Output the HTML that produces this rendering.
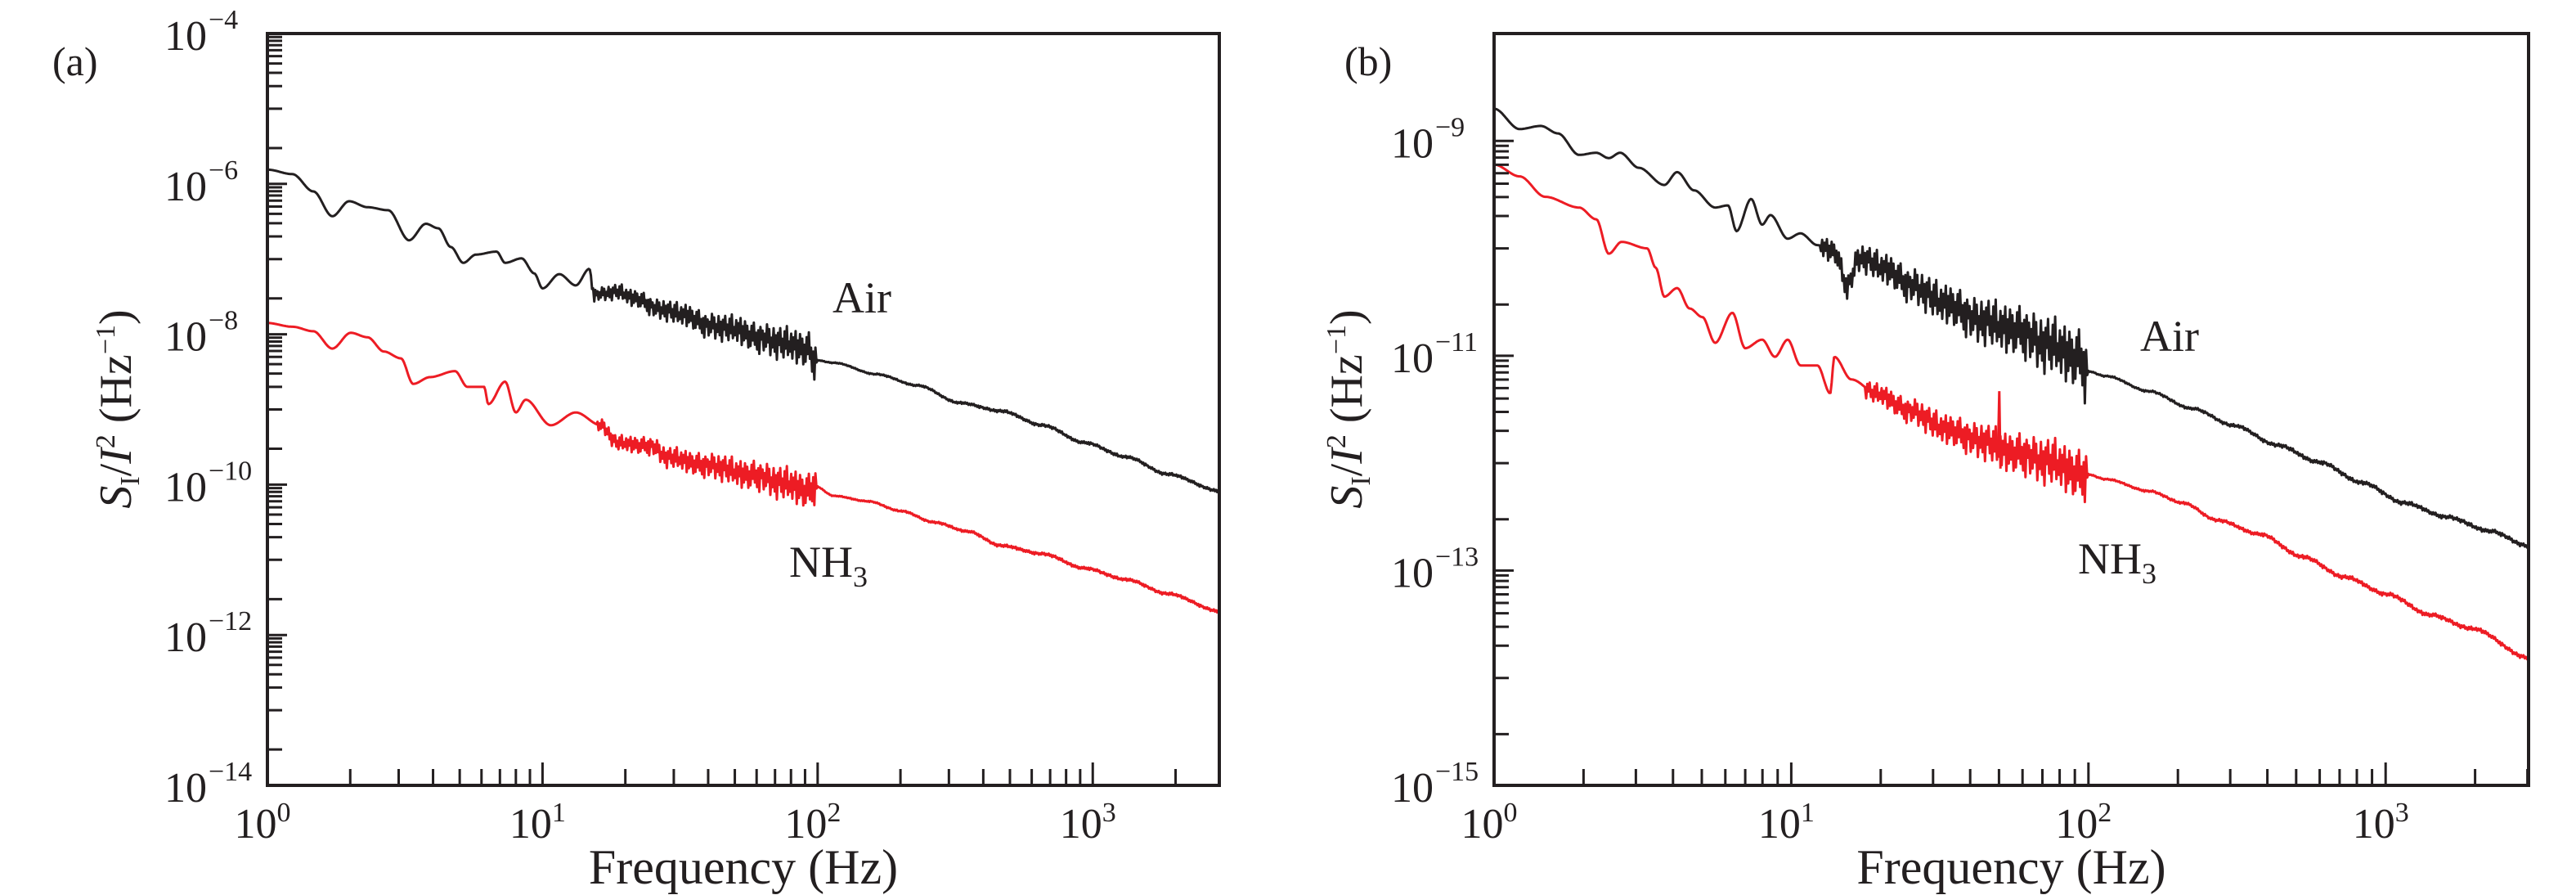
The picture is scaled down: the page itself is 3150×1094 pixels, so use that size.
<!DOCTYPE html>
<html><head><meta charset="utf-8">
<style>
html,body{margin:0;padding:0;background:#fff;}
svg{display:block;font-family:"Liberation Serif",serif;}
</style></head>
<body>
<svg id="fig" width="3150" height="1094" viewBox="0 0 3150 1094" xmlns="http://www.w3.org/2000/svg"></svg>
<script>
// ---- Panel (a) data: log10(frequency/Hz) and log10(S/I^2) ----
const airA_logf = [0,.091,.167,.236,.297,.364,.439,.515,.576,.621,.667,.712,.758,.833,.864,.924,.97,1.0,1.061,1.121,1.17,1.188,1.273,1.333,1.424,1.515,1.606,1.697,1.788,1.879,1.97,1.985,2.061,2.212,2.364,2.515,2.667,2.818,2.97,3.121,3.273,3.46];
const airA_logS = [-5.81,-5.87,-6.10,-6.43,-6.23,-6.31,-6.35,-6.75,-6.53,-6.59,-6.84,-7.05,-6.94,-6.90,-7.05,-6.99,-7.19,-7.39,-7.20,-7.35,-7.13,-7.47,-7.43,-7.51,-7.66,-7.73,-7.88,-7.92,-8.04,-8.11,-8.19,-8.34,-8.38,-8.53,-8.68,-8.91,-9.02,-9.21,-9.44,-9.63,-9.86,-10.08];
const nh3A_logf = [0,.091,.167,.236,.303,.364,.424,.485,.530,.591,.682,.727,.788,.803,.864,.903,.939,1.03,1.121,1.212,1.273,1.394,1.455,1.606,1.758,1.879,1.97,1.985,2.061,2.182,2.303,2.424,2.545,2.667,2.818,2.97,3.121,3.273,3.46];
const nh3A_logS = [-7.85,-7.90,-7.96,-8.19,-7.98,-8.04,-8.23,-8.32,-8.66,-8.57,-8.49,-8.70,-8.70,-8.93,-8.63,-9.04,-8.87,-9.21,-9.04,-9.21,-9.44,-9.48,-9.63,-9.74,-9.86,-9.97,-10.07,-10.01,-10.15,-10.22,-10.35,-10.50,-10.62,-10.81,-10.92,-11.11,-11.26,-11.45,-11.68];
// ---- Panel (b) data ----
const airB_logf = [0,.086,.157,.215,.286,.344,.386,.424,.487,.573,.616,.673,.744,.787,.816,.865,.902,.930,.988,1.031,1.088,1.145,1.188,1.231,1.317,1.403,1.517,1.632,1.746,1.861,1.975,1.990,2.061,2.204,2.348,2.491,2.634,2.777,2.920,3.063,3.206,3.350,3.481];
const airB_logS = [-8.70,-8.89,-8.86,-8.93,-9.13,-9.11,-9.16,-9.11,-9.25,-9.41,-9.29,-9.46,-9.62,-9.60,-9.84,-9.54,-9.78,-9.69,-9.91,-9.86,-9.97,-10.02,-10.34,-10.08,-10.18,-10.34,-10.50,-10.66,-10.74,-10.88,-11.01,-11.14,-11.19,-11.33,-11.49,-11.65,-11.83,-11.99,-12.18,-12.37,-12.50,-12.63,-12.77];
const nh3B_logf = [0,.086,.172,.286,.344,.386,.429,.515,.544,.573,.616,.658,.701,.744,.802,.845,.902,.945,.988,1.031,1.088,1.131,1.145,1.202,1.288,1.403,1.517,1.632,1.746,1.861,1.990,2.061,2.204,2.319,2.433,2.577,2.720,2.863,3.006,3.149,3.292,3.481];
const nh3B_logS = [-9.22,-9.33,-9.52,-9.62,-9.73,-10.05,-9.94,-10.00,-10.18,-10.45,-10.37,-10.56,-10.64,-10.88,-10.60,-10.93,-10.85,-11.01,-10.85,-11.09,-11.09,-11.35,-11.01,-11.22,-11.35,-11.51,-11.67,-11.78,-11.89,-11.97,-12.10,-12.15,-12.26,-12.37,-12.53,-12.66,-12.87,-13.06,-13.22,-13.41,-13.54,-13.81];
// fluctuation pattern (decades) superimposed in the noisy band, read as typical scatter
const noisePattern = [0.10,-0.18,0.06,-0.12,0.20,-0.05,0.14,-0.22,0.03,-0.10,0.17,-0.15,0.08,-0.25,0.12,-0.04,0.19,-0.13,0.05,-0.20,0.15,-0.08,0.22,-0.16,0.02,-0.11,0.13,-0.19,0.09,-0.06,0.18,-0.23,0.07,-0.14,0.16,-0.09,0.11,-0.21,0.04,-0.17,0.14,-0.07,0.20,-0.12,0.06,-0.18,0.10,-0.24,0.15,-0.03];
// noisy band ranges (log10 f) and amplitudes
const airA_noise = [1.18, 2.0, 1.1];
const nh3A_noise = [1.2, 2.0, 1.1];
const airB_noise = [1.1, 2.0, 1.3];
const nh3B_noise = [1.25, 2.0, 1.1];

const NS = "http://www.w3.org/2000/svg";
const svg = document.getElementById('fig');
function el(tag, attrs, parent){
  const e = document.createElementNS(NS, tag);
  for (const k in attrs) e.setAttribute(k, attrs[k]);
  (parent||svg).appendChild(e);
  return e;
}
function interp(xs, ys, x){
  if (x <= xs[0]) return ys[0];
  for (let i=1;i<xs.length;i++){ if (x<=xs[i]){ const t=(x-xs[i-1])/(xs[i]-xs[i-1]); const s=t*t*(3-2*t); return ys[i-1]+s*(ys[i]-ys[i-1]); } }
  return ys[ys.length-1];
}

function panel(cfg){
  const g = el('g', {});
  
  
  const X = lf => cfg.x0 + (lf - 0) / cfg.xmax * (cfg.x1 - cfg.x0);
  const Y = ls => cfg.y0 + (cfg.ytop - ls) / (cfg.ytop - cfg.ybot) * (cfg.y1 - cfg.y0);
  cfg.series.forEach(s => {
    let pts = [];
    const [n0, n1, amp] = s.noise;
    const last = s.f[s.f.length-1];
    for (let x=0; x<=last+1e-9; x+= 0.004){
      let v = interp(s.f, s.v, x);
      if (x > n0 && x < n1){
        const idx = Math.round(x*250) % noisePattern.length;
        const scale = amp * (0.35 + 0.65*(x-n0)/(n1-n0));
        v += noisePattern[idx]*scale;
      } else if (x >= n1) {
        const idx = Math.round(x*250) % noisePattern.length;
        v += noisePattern[idx]*0.08*Math.min(1,(x-2)/1.0+0.3);
      }
      pts.push([X(x), Y(v)]);
    }
    const p = el('polyline', {points: pts.map(q=>q[0].toFixed(1)+','+q[1].toFixed(1)).join(' '), fill:'none', stroke:s.color, 'stroke-width':3, 'stroke-linejoin':'round'}, g);
    
    
    if (s.spike){
      const sp = el('polyline', {points: `${X(s.spike[0]-0.004)},${Y(interp(s.f,s.v,s.spike[0]))} ${X(s.spike[0])},${Y(s.spike[1])} ${X(s.spike[0]+0.004)},${Y(interp(s.f,s.v,s.spike[0])-0.2)}`, fill:'none', stroke:s.color,'stroke-width':3}, g);
      
      
    }
  });
  const fr = el('rect', {x:cfg.x0, y:cfg.y0, width:cfg.x1-cfg.x0, height:cfg.y1-cfg.y0, fill:'none', stroke:'#231f20', 'stroke-width':4}, g);
  
  
  for (let d=0; d<=3; d++){
    for (let k=1;k<=9;k++){
      const lf = d + Math.log10(k);
      if (lf > cfg.xmax) continue;
      const x = X(lf), len = k===1?28:20;
      const t = el('line', {x1:x, x2:x, y1:cfg.y1, y2:cfg.y1-len, stroke:'#231f20','stroke-width':3}, g);
      
      
    }
    const tl = el('text', {x:X(d)-6, y:cfg.y1+64, 'font-size':52, 'text-anchor':'middle', fill:'#231f20'}, g);
    
    
    tl.innerHTML = '10<tspan dy="-20" font-size="34">' + d + '</tspan>';
  }
  cfg.ylabels.forEach(m => {
    const y = Y(m);
    const t = el('line', {x1:cfg.x0, x2:cfg.x0+24, y1:y, y2:y, stroke:'#231f20','stroke-width':3}, g);
    
    
    const mins = [];
    for (let k=2;k<=9;k++) mins.push(m-1+Math.log10(k));
    mins.push(m-1, m-2+Math.log10(3));
    mins.forEach(v => {
      if (v < cfg.ybot) return;
      const yy = Y(v);
      const mt = el('line', {x1:cfg.x0, x2:cfg.x0+18, y1:yy, y2:yy, stroke:'#231f20','stroke-width':3}, g);
      
      
    });
    const tl = el('text', {x:cfg.x0-74, y:y+20, 'font-size':52, 'text-anchor':'end', fill:'#231f20'}, g);
    
    
    tl.textContent = '10';
    const sup = el('text', {x:cfg.x0-72, y:y-6, 'font-size':34, 'text-anchor':'start', fill:'#231f20'}, g);
    
    
    sup.textContent = '\u2212' + (-m);
  });
  const xt = el('text', {x:(cfg.x0+cfg.x1)/2, y:1080, 'font-size':60, 'text-anchor':'middle', fill:'#231f20'}, g);
  
  
  xt.textContent = 'Frequency (Hz)';
  const yt = el('text', {x:0, y:0, 'font-size':56, 'text-anchor':'middle', fill:'#231f20', transform:`translate(${cfg.ytx},500) rotate(-90)`}, g);
  
  
  yt.innerHTML = '<tspan font-style="italic">S</tspan><tspan font-size="34" dy="10">I</tspan><tspan dy="-10">/</tspan><tspan font-style="italic">I</tspan><tspan font-size="34" dy="-20">2</tspan><tspan dy="20"> (Hz</tspan><tspan font-size="34" dy="-20">\u22121</tspan><tspan dy="20">)</tspan>';
  const pl = el('text', {x:cfg.plx, y:92, 'font-size':50, fill:'#231f20'}, g);
  
  
  pl.textContent = cfg.panel;
  const al = el('text', {x:cfg.air[0], y:cfg.air[1], 'font-size':54, fill:'#231f20'}, g);
  
  
  al.textContent = 'Air';
  const nl = el('text', {x:cfg.nh3[0], y:cfg.nh3[1], 'font-size':54, fill:'#231f20'}, g);
  
  
  nl.innerHTML = 'NH<tspan font-size="36" dy="12">3</tspan>';
}

panel({name:'panel-a', panel:'(a)', x0:327, x1:1491, y0:41, y1:960, xmax:3.46, ytop:-4, ybot:-14,
  ylabels:[-4,-6,-8,-10,-12,-14], ytx:160, plx:64, air:[1018,382], nh3:[965,705],
  series:[{name:'air-series', color:'#231f20', f:airA_logf, v:airA_logS, noise:airA_noise},
          {name:'nh3-series', color:'#ed1c24', f:nh3A_logf, v:nh3A_logS, noise:nh3A_noise}]});
panel({name:'panel-b', panel:'(b)', x0:1827, x1:3092, y0:41, y1:960, xmax:3.481, ytop:-8, ybot:-15,
  ylabels:[-9,-11,-13,-15], ytx:1665, plx:1644, air:[2617,429], nh3:[2541,701],
  series:[{name:'air-series', color:'#231f20', f:airB_logf, v:airB_logS, noise:airB_noise},
          {name:'nh3-series', color:'#ed1c24', f:nh3B_logf, v:nh3B_logS, noise:nh3B_noise, spike:[1.70,-11.33]}]});
</script>
</body></html>
